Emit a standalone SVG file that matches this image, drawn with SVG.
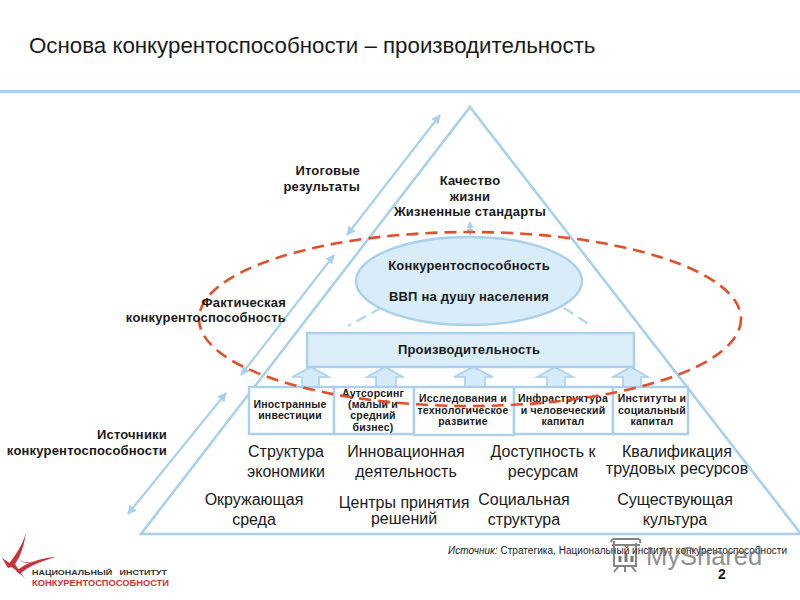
<svg xmlns="http://www.w3.org/2000/svg" width="800" height="600" viewBox="0 0 800 600">
<defs>
<marker id="ah" viewBox="0 0 10 10" refX="9" refY="5" markerWidth="4.2" markerHeight="4.2" orient="auto-start-reverse"><path d="M0 0L10 5L0 10z" fill="#a9d0ec"/></marker>
</defs>
<style>
text{font-family:"Liberation Sans",Arial,sans-serif;fill:#1a1a1a}
.lb{font-size:13px;font-weight:bold;text-anchor:middle;letter-spacing:.2px}
.lr{font-size:13px;font-weight:bold;text-anchor:end;letter-spacing:.2px}
.s{font-size:10.5px;font-weight:bold;text-anchor:middle;letter-spacing:.2px}
.n{font-size:16px;text-anchor:middle}
.box{fill:#fff;stroke:#a9d0ec;stroke-width:2.4}
.cl{fill:none;stroke:#a9d0ec;stroke-width:2.2;marker-start:url(#ah);marker-end:url(#ah)}
.up{fill:#d5ebf9;stroke:#a9d0ec;stroke-width:1.6}
</style>
<rect width="800" height="600" fill="#fff"/>
<text x="29" y="53" font-size="22.3" fill="#222">Основа конкурентоспособности – производительность</text>
<rect x="0" y="90" width="800" height="3" fill="#a9d0ec"/>

<g id="pyramid"><path d="M470 107L801 534H141Z" fill="#fff" stroke="#a9d0ec" stroke-width="2.6"/></g>

<g id="connectors">
<path class="cl" d="M347 235L440 115"/>
<path class="cl" d="M241 375L334 255"/>
<path class="cl" d="M128 514L226 393"/>
<path d="M470 222V235" fill="none" stroke="#a9d0ec" stroke-width="1.6" marker-start="url(#ah)" marker-end="url(#ah)"/>
<path d="M381 308L348 326" fill="none" stroke="#b5d6ee" stroke-width="2.4" stroke-dasharray="11 6"/>
<path d="M564 308L592 326" fill="none" stroke="#b5d6ee" stroke-width="2.4" stroke-dasharray="11 6"/>
<g id="up-arrows">
<path class="up" d="M302 387V377H292L311 367L329 377H319V387Z"/>
<path class="up" d="M376 387V377H367L385 367L403 377H396V387Z"/>
<path class="up" d="M465 387V377H454L473 367L493 377H485V387Z"/>
<path class="up" d="M547 387V377H537L555 367L573 377H565V387Z"/>
<path class="up" d="M623 387V377H613L631 367L648 377H641V387Z"/>
</g>
</g>

<g id="n-productivity"><rect x="307" y="333" width="327" height="34" fill="#dcedfa" stroke="#a9d0ec" stroke-width="2.4"/><text class="lb" x="469" y="354">Производительность</text></g>
<g id="n-competitiveness"><ellipse cx="469" cy="281" rx="113" ry="44" fill="#d8ecfa" stroke="#a9d0ec" stroke-width="2.4"/><text class="lb" x="469" y="270">Конкурентоспособность</text><text class="lb" x="469" y="301">ВВП на душу населения</text></g>

<g id="n-foreign"><rect class="box" x="249" y="387" width="85" height="47"/><text class="s" x="290" y="408">Иностранные</text><text class="s" x="290" y="419">инвестиции</text></g>
<g id="n-outsourcing"><rect class="box" x="334" y="387" width="80" height="47"/><text class="s" x="373" y="397">Аутсорсинг</text><text class="s" x="373" y="408">(малый и</text><text class="s" x="373" y="419">средний</text><text class="s" x="373" y="431">бизнес)</text></g>
<g id="n-research"><rect class="box" x="414" y="387" width="100" height="48"/><text class="s" x="463" y="402">Исследования и</text><text class="s" x="463" y="414">технологическое</text><text class="s" x="463" y="425">развитие</text></g>
<g id="n-infra"><rect class="box" x="514" y="387" width="99" height="47"/><text class="s" x="563" y="402">Инфраструктура</text><text class="s" x="563" y="414">и человеческий</text><text class="s" x="563" y="425">капитал</text></g>
<g id="n-institutes"><rect class="box" x="613" y="387" width="75" height="47"/><text class="s" x="652" y="402">Институты и</text><text class="s" x="652" y="414">социальный</text><text class="s" x="652" y="425">капитал</text></g>

<ellipse id="dashed-oval" cx="470" cy="319" rx="271" ry="87" fill="none" stroke="#e0502a" stroke-width="2.6" stroke-dasharray="12 7"/>

<g id="labels">
<text class="lr" x="360" y="175">Итоговые</text><text class="lr" x="360" y="191">результаты</text>
<text class="lb" x="470" y="185">Качество</text><text class="lb" x="470" y="201">жизни</text><text class="lb" x="470" y="216">Жизненные стандарты</text>
<text class="lr" x="286" y="307">Фактическая</text><text class="lr" x="286" y="322">конкурентоспособность</text>
<text class="lr" x="167" y="439">Источники</text><text class="lr" x="167" y="455">конкурентоспособности</text>
<text class="n" x="286" y="457">Структура</text><text class="n" x="286" y="477">экономики</text>
<text class="n" x="406" y="457">Инновационная</text><text class="n" x="406" y="477">деятельность</text>
<text class="n" x="543" y="457">Доступность к</text><text class="n" x="543" y="477">ресурсам</text>
<text class="n" x="677" y="457">Квалификация</text><text class="n" x="677" y="474">трудовых ресурсов</text>
<text class="n" x="254" y="505">Окружающая</text><text class="n" x="254" y="525">среда</text>
<text class="n" x="404" y="508">Центры принятия</text><text class="n" x="404" y="524">решений</text>
<text class="n" x="524" y="505">Социальная</text><text class="n" x="524" y="525">структура</text>
<text class="n" x="675" y="505">Существующая</text><text class="n" x="675" y="525">культура</text>
</g>

<g id="source"><text x="448" y="554" font-size="10" fill="#333" textLength="339"><tspan font-style="italic">Источник:</tspan> Стратегика, Национальный институт конкурентоспособности</text></g>
<g id="watermark" opacity=".72">
<path d="M612 542Q610 540 614 539H638Q641 539 640 543M614 541V566H636V543M612 545H640" fill="none" stroke="#555" stroke-width="2"/>
<path d="M620 562V556M626 562V553M632 562V556" stroke="#444" stroke-width="3"/>
<path d="M618 567L614 572M625 567V572M632 567L636 572" stroke="#555" stroke-width="2"/>
<text x="646" y="565" font-size="25.5" style="fill:#666">MyShared</text>
</g>
<text x="722" y="579" font-size="14" font-weight="bold" text-anchor="middle">2</text>

<g id="logo">
<path d="M26 533C22 546 15 556 8 565C14 568 21 574 26 580C20 572 17 567 15 564C21 556 24 545 26 533Z" fill="#c8333a"/>
<path d="M2 558L8 568L14 566ZM56 557C40 558 26 563 16 571L20 574C28 566 42 561 56 557Z" fill="#c8333a"/>
<path d="M19 557C21 562 25 563 32 562C26 564 21 563 19 557Z" fill="#c8333a"/>
<text x="32" y="575" font-size="8" font-weight="bold" style="fill:#333" textLength="135" lengthAdjust="spacingAndGlyphs" xml:space="preserve">НАЦИОНАЛЬНЫЙ   ИНСТИТУТ</text>
<text x="32" y="586" font-size="9.5" font-weight="bold" style="fill:#c8333a" textLength="137" lengthAdjust="spacingAndGlyphs">КОНКУРЕНТОСПОСОБНОСТИ</text>
</g>
</svg>
